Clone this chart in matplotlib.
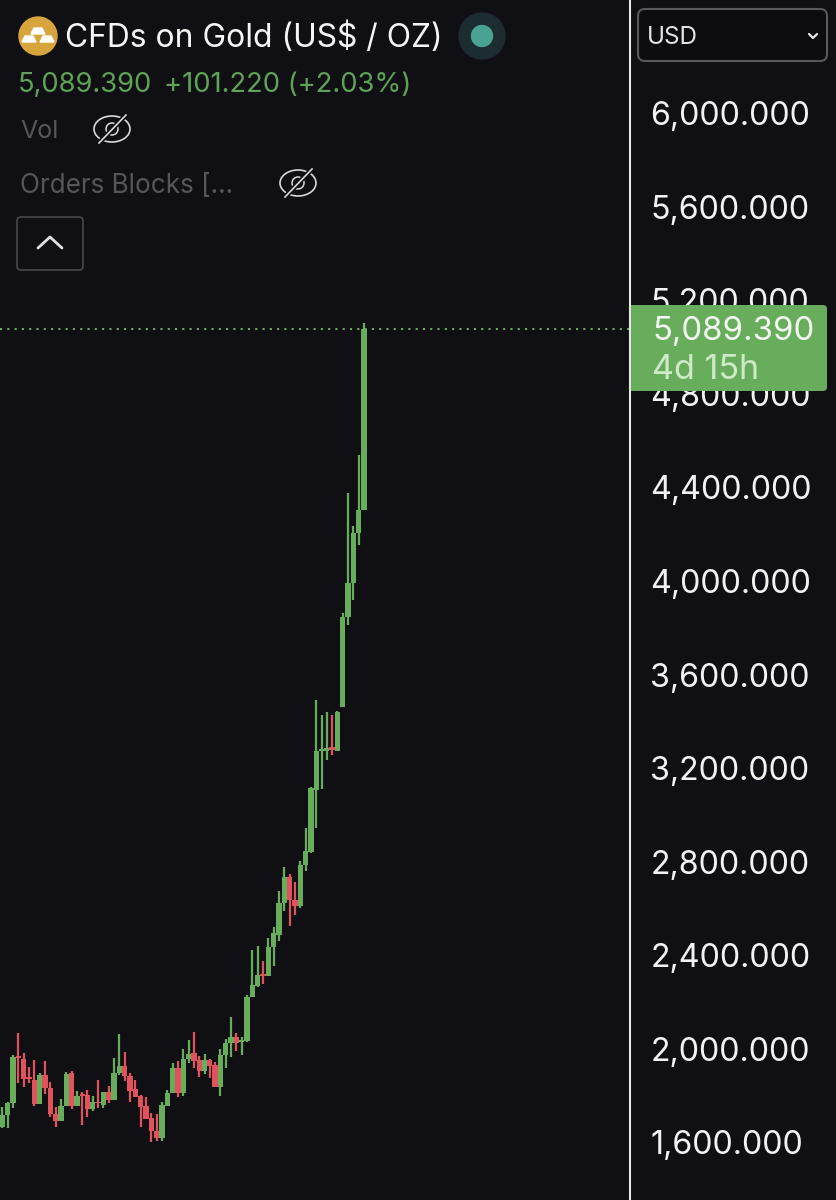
import numpy as np
import matplotlib
matplotlib.use('Agg')
import matplotlib.pyplot as plt
from matplotlib.patches import Circle, Ellipse, FancyBboxPatch, Polygon, Rectangle
from matplotlib.transforms import ScaledTranslation

plt.rcParams['font.family'] = ['Inter', 'DejaVu Sans']

# ── Data ───────────────────────────────────────────────────────────────────────
opens = [1678, 1728, 1778, 1978, 1966, 1885, 1878, 1774, 1899, 1845, 1731, 1704,
         1767, 1909, 1767, 1814, 1814, 1752, 1782, 1771, 1825, 1792, 1906, 1938,
         1895, 1838, 1810, 1767, 1714, 1660, 1631, 1767, 1824, 1928, 1824, 1966,
         1992, 1963, 1916, 1963, 1942, 1847, 1985, 2035, 2063, 2042, 2045, 2231,
         2281, 2330, 2323, 2448, 2498, 2633, 2744, 2647, 2623, 2797, 2853, 3118,
         3285, 3285, 3302, 3285, 3473, 3858, 4003, 4217, 4315]
highs = [1764, 1785, 1985, 2077, 1995, 1935, 1963, 1906, 1959, 1871, 1761, 1798,
         1912, 1916, 1832, 1828, 1835, 1811, 1878, 1828, 1854, 1971, 2073, 1999,
         1909, 1878, 1814, 1807, 1735, 1731, 1785, 1835, 1949, 1959, 2009, 2049,
         2083, 1981, 1988, 1966, 1953, 2009, 2052, 2146, 2080, 2063, 2241, 2434,
         2451, 2388, 2484, 2531, 2686, 2787, 2761, 2726, 2816, 2955, 3130, 3503,
         3439, 3452, 3439, 3458, 3875, 4388, 4247, 4550, 5115]
lows = [1671, 1671, 1757, 1864, 1849, 1864, 1767, 1774, 1817, 1718, 1678, 1704,
        1767, 1752, 1767, 1684, 1721, 1745, 1760, 1757, 1778, 1792, 1899, 1874,
        1785, 1804, 1678, 1710, 1614, 1619, 1619, 1767, 1824, 1804, 1810, 1949,
        1931, 1892, 1904, 1885, 1847, 1810, 1928, 1975, 2003, 1985, 2040, 2231,
        2277, 2288, 2323, 2365, 2474, 2602, 2538, 2583, 2615, 2772, 2850, 2955,
        3122, 3246, 3268, 3285, 3473, 3824, 3930, 4166, 4315]
closes = [1728, 1781, 1978, 1971, 1881, 1881, 1775, 1899, 1842, 1731, 1704, 1767,
          1904, 1767, 1811, 1810, 1755, 1782, 1778, 1828, 1792, 1906, 1938, 1895,
          1832, 1807, 1764, 1710, 1660, 1631, 1770, 1824, 1931, 1824, 1966, 1988,
          1959, 1916, 1963, 1939, 1847, 1985, 2035, 2060, 2038, 2046, 2233, 2284,
          2327, 2324, 2448, 2505, 2633, 2744, 2647, 2623, 2797, 2857, 3127, 3285,
          3289, 3298, 3289, 3452, 3858, 4003, 4217, 4315, 5089.39]

tick_values = [6000, 5600, 5200, 4800, 4400, 4000, 3600, 3200, 2800, 2400, 2000, 1600]
tick_labels = ['6,000.000', '5,600.000', '5,200.000', '4,800.000', '4,400.000', '4,000.000',
               '3,600.000', '3,200.000', '2,800.000', '2,400.000', '2,000.000', '1,600.000']
last_price = 5089.39

BG = '#101014'
GREEN = '#67ad5c'
RED = '#e2525c'
W, H = 837, 1200

fig = plt.figure(figsize=(W / 100, H / 100), dpi=100, facecolor=BG)

# ── Candles ────────────────────────────────────────────────────────────────────
ax = fig.add_axes([0, 0, 630 / W, 1], facecolor=BG)
ax.set_xlim(-0.45, 118.0)
ax.set_ylim(1365, 6496)

x = np.arange(len(opens))
o, h, l, c = map(np.array, (opens, highs, lows, closes))
colors = [GREEN if cl >= op else RED for op, cl in zip(o, c)]
ax.vlines(x, l, h, colors=colors, linewidth=1.6, zorder=2)
ax.bar(x, np.maximum(np.abs(c - o), 8), bottom=np.minimum(o, c), width=1.0, color=colors, zorder=3)
ax.axhline(last_price, color=GREEN, linestyle=(0, (1, 2.5)), linewidth=1.5, zorder=1)

# price axis
ax.set_xticks([])
ax.yaxis.tick_right()
ax.set_yticks(tick_values)
ax.set_yticklabels(tick_labels, fontsize=23.2, color='#f2f2f2')
ax.tick_params(axis='y', length=0, pad=14.5)
up = ScaledTranslation(0, 2 / 72, fig.dpi_scale_trans)
for t in ax.get_yticklabels():
    t.set_transform(t.get_transform() + up)
for side in ('top', 'left', 'bottom'):
    ax.spines[side].set_visible(False)
ax.spines['right'].set_color('#e6e6e6')
ax.spines['right'].set_linewidth(1.5)

# ── Interface overlay, in pixel coordinates ────────────────────────────────────
ui = fig.add_axes([0, 0, 1, 1], facecolor='none')
ui.set_xlim(0, W)
ui.set_ylim(H, 0)
ui.axis('off')


def eye_icon(cx, cy):
    ui.add_patch(Ellipse((cx, cy), 36, 26, fill=False, ec='#d8d8d8', lw=1.2))
    ui.add_patch(Circle((cx, cy), 6, fill=False, ec='#d8d8d8', lw=1.1))
    ui.plot([cx - 13, cx + 14], [cy + 14, cy - 14], color=BG, lw=3.5)
    ui.plot([cx - 13, cx + 14], [cy + 14, cy - 14], color='#d8d8d8', lw=1.2)


def chevron(cx, cy, w, rise, color, lw):
    ui.plot([cx - w, cx, cx + w], [cy, cy + rise, cy], color=color, lw=lw,
            solid_capstyle='round', solid_joinstyle='round')


# logo
ui.add_patch(Circle((38, 36), 19, color='#d8a53c'))
for bx, by in [(38, 31), (29, 39), (47, 39)]:
    ui.add_patch(Polygon([(bx - 4, by - 3), (bx + 4, by - 3), (bx + 7, by + 3), (bx - 7, by + 3)], color='white'))

ui.text(65, 38, 'CFDs on Gold (US$ / OZ)', fontsize=22.9, color='#f5f5f5', va='center')
ui.add_patch(Circle((482, 36), 23, color='#1c2c30'))
ui.add_patch(Circle((482, 36), 10.5, color='#4aa392'))

ui.text(18, 85, '5,089.390', fontsize=19.7, color='#5fa358', va='center')
ui.text(164, 85, '+101.220 (+2.03%)', fontsize=19.7, color='#5fa358', va='center')

ui.text(20, 132, 'Vol', fontsize=18, color='#55555b', va='center')
eye_icon(112, 129)
ui.text(20, 186, 'Orders Blocks [...', fontsize=18.8, color='#55555b', va='center')
eye_icon(298, 183)

ui.add_patch(FancyBboxPatch((20, 220), 60, 47, boxstyle='round,pad=3,rounding_size=4',
                            fc='none', ec='#47474d', lw=1.2))
chevron(50, 248, 12, -11, '#e0e0e0', 2)

# currency selector
ui.add_patch(FancyBboxPatch((641, 12), 183, 46, boxstyle='round,pad=3,rounding_size=7',
                            fc='#0c0c0f', ec='#58585c', lw=1.5))
ui.text(647, 37, 'USD', fontsize=17.5, color='#e4e4e4', va='center')
chevron(813, 34, 4, 4, '#e4e4e4', 1.6)

# last price tag
ui.add_patch(FancyBboxPatch((634, 308), 190, 80, boxstyle='round,pad=3,rounding_size=4',
                            fc=GREEN, ec='none', zorder=5))
ui.add_patch(Rectangle((631, 305), 20, 86, fc=GREEN, ec='none', zorder=5))
ui.text(652, 331, '5,089.390', fontsize=23.7, color='#f4f8f2', va='center', zorder=6)
ui.text(652, 370, '4d 15h', fontsize=24.5, color='#cfe9c9', va='center', zorder=6)

fig.savefig('out.png', dpi=100, facecolor=BG)
plt.close(fig)
